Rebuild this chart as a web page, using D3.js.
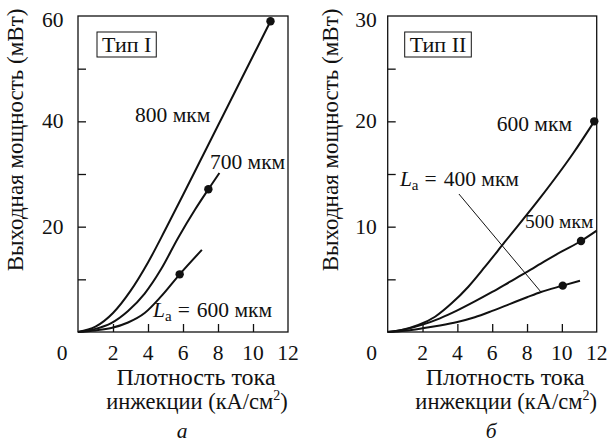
<!DOCTYPE html>
<html>
<head>
<meta charset="utf-8">
<script src="https://cdn.jsdelivr.net/npm/d3@7"></script>
<style>
  html, body { margin: 0; padding: 0; background: #fff; }
  svg text { fill: #111; }
</style>
</head>
<body>
<div id="chart"></div>
<script>
// Output power vs injection current density, two laser types

var xTickValues = [2, 4, 6, 8, 10];
var xTickLabels = ["0", "2", "4", "6", "8", "10", "12"];

// panel a (Type I)
var yTicksA = [10, 20, 30, 40, 50];
var yLabelsA = [20, 40, 60];
var curveA800 = [[0, 0], [1, 1.0], [2, 3.6], [3, 7.8], [4, 13.2], [5, 19.5], [6, 26], [7, 32.6], [8, 39.2], [9, 45.8], [10, 52.4], [11, 59]];
var curveA700 = [[0, 0], [1, 0.6], [1.9, 1.7], [2.86, 4.0], [3.81, 7.3], [4.76, 12], [5.71, 17.8], [6.7, 23.3], [7.45, 27.1], [8.08, 30.2]];
var curveA600 = [[0, 0], [1, 0.3], [1.9, 0.75], [2.86, 1.8], [3.81, 3.6], [4.76, 6.8], [5.81, 10.95], [7.08, 15.6]];
var dotsA = [[11, 59], [7.45, 27.1], [5.81, 10.95]];

// panel b (Type II)
var yTicksB = [5, 10, 15, 20, 25];
var yLabelsB = [10, 20, 30];
var curveB600 = [[0, 0], [0.8, 0.19], [1.76, 0.66], [2.72, 1.45], [3.67, 2.72], [4.63, 4.3], [5.59, 6.2], [6.7, 8.5], [8.74, 12.7], [10.65, 16.97], [11.86, 20]];
var curveB500 = [[0, 0], [1, 0.25], [2, 0.7], [3, 1.3], [4, 2.05], [5, 2.9], [6, 3.8], [7, 4.75], [8, 5.7], [9, 6.7], [10, 7.65], [11.1, 8.64], [12, 9.62]];
var curveB400 = [[0, 0], [1, 0.12], [2, 0.35], [3, 0.62], [4, 0.95], [5, 1.4], [6, 2.0], [7, 2.65], [8, 3.3], [8.8, 3.8], [10.05, 4.4], [11.04, 4.87]];
var dotsB = [[11.86, 20], [11.1, 8.64], [10.05, 4.4]];
var leaderB = [[4.09, 13.1], [8.8, 3.8]];

var W = 609, H = 444;
var FS = 21.5;
var svg = d3.select("#chart").append("svg")
    .attr("width", W).attr("height", H)
    .attr("font-family", "Liberation Serif, Times New Roman, serif");

function drawPanel(opt) {
    var x = d3.scaleLinear().domain([0, 12]).range([opt.left, opt.right]);
    var y = d3.scaleLinear().domain([0, opt.yMax]).range([332, 16]);
    var g = svg.append("g");

    // frame
    g.append("rect")
        .attr("x", x(0)).attr("y", y(opt.yMax))
        .attr("width", x(12) - x(0)).attr("height", y(0) - y(opt.yMax))
        .attr("fill", "none").attr("stroke", "#111").attr("stroke-width", 1.3);

    // inward ticks
    g.append("g")
        .attr("transform", "translate(0," + y(0) + ")")
        .call(d3.axisTop(x).tickValues(xTickValues).tickSize(8).tickFormat(""))
        .call(function (s) { s.select(".domain").remove(); })
        .selectAll("line").attr("stroke", "#111").attr("stroke-width", 1.3);
    g.append("g")
        .attr("transform", "translate(" + x(0) + ",0)")
        .call(d3.axisRight(y).tickValues(opt.yTicks).tickSize(8).tickFormat(""))
        .call(function (s) { s.select(".domain").remove(); })
        .selectAll("line").attr("stroke", "#111").attr("stroke-width", 1.3);

    // tick labels
    g.selectAll(".xl").data(xTickLabels).enter().append("text")
        .attr("x", function (d, i) { return i === 0 ? x(0) - 16 : x(+d); })
        .attr("y", 360)
        .attr("text-anchor", "middle")
        .attr("font-size", FS + "px")
        .text(function (d) { return d; });
    g.selectAll(".yl").data(opt.yLabels).enter().append("text")
        .attr("x", x(0) - opt.yLabelGap)
        .attr("y", function (d) { return y(d) + (d === opt.yMax ? 4 : 0); })
        .attr("dy", "0.33em")
        .attr("text-anchor", "end")
        .attr("font-size", FS + "px")
        .text(function (d) { return d; });

    // axis titles
    g.append("text")
        .attr("transform", "translate(" + (x(0) - opt.titleGap) + ",140) rotate(-90)")
        .attr("text-anchor", "middle")
        .attr("font-size", "23px")
        .text("Выходная мощность (мВт)");
    var cx = (x(0) + x(12)) / 2 + 13;
    g.append("text")
        .attr("x", cx).attr("y", 385)
        .attr("text-anchor", "middle")
        .attr("font-size", "24px")
        .text("Плотность тока");
    var t2 = g.append("text")
        .attr("x", cx + 1).attr("y", 409)
        .attr("text-anchor", "middle")
        .attr("font-size", "22.5px");
    t2.append("tspan").text("инжекции (кА/см");
    t2.append("tspan").attr("font-size", "14px").attr("dy", "-9").text("2");
    t2.append("tspan").attr("dy", "9").text(")");
    g.append("text")
        .attr("x", (x(0) + x(12)) / 2 - 1).attr("y", 438)
        .attr("text-anchor", "middle")
        .attr("font-size", FS + "px")
        .attr("font-style", "italic")
        .text(opt.caption);

    // type box
    var box = g.append("rect");
    var bt = g.append("text")
        .attr("x", x(0) + opt.boxOffset).attr("y", 52)
        .attr("font-size", "22px")
        .text(opt.type);
    var bb = bt.node().getBBox();
    box.attr("x", bb.x - 5).attr("y", 32)
        .attr("width", bb.width + 10).attr("height", 25)
        .attr("fill", "#fff").attr("stroke", "#111").attr("stroke-width", 1);

    var line = d3.line()
        .x(function (d) { return x(d[0]); })
        .y(function (d) { return y(d[1]); })
        .curve(d3.curveMonotoneX);

    opt.curves.forEach(function (c) {
        g.append("path").datum(c)
            .attr("d", line)
            .attr("fill", "none").attr("stroke", "#111").attr("stroke-width", 2);
    });
    if (opt.leader) {
        g.append("path").datum(opt.leader)
            .attr("d", d3.line().x(function (d) { return x(d[0]); }).y(function (d) { return y(d[1]); }))
            .attr("fill", "none").attr("stroke", "#111").attr("stroke-width", 1);
    }
    g.selectAll(".dot").data(opt.dots).enter().append("circle")
        .attr("cx", function (d) { return x(d[0]); })
        .attr("cy", function (d) { return y(d[1]); })
        .attr("r", 4.2).attr("fill", "#111");

    opt.labels.forEach(function (l) {
        var t = g.append("text")
            .attr("x", x(l.x)).attr("y", y(l.y))
            .attr("dy", "0.33em")
            .attr("font-size", (l.size || FS) + "px");
        if (l.la) {
            t.append("tspan").attr("font-style", "italic").text("L");
            t.append("tspan").attr("font-size", "15px").attr("dy", "4").text("a");
            t.append("tspan").attr("dy", "-4").attr("dx", "6").text("=");
            t.append("tspan").attr("dx", "7").text(l.text);
        } else {
            t.text(l.text);
        }
    });
}

drawPanel({
    left: 78, right: 288, yMax: 60,
    yTicks: yTicksA, yLabels: yLabelsA, yLabelGap: 14.5, titleGap: 55, boxOffset: 24,
    curves: [curveA800, curveA700, curveA600], dots: dotsA,
    type: "Тип I", caption: "а",
    labels: [
        { x: 3.26, y: 41.2, text: "800 мкм" },
        { x: 7.54, y: 32.3, text: "700 мкм" },
        { x: 4.29, y: 4.2, text: "600 мкм", la: true }
    ]
});

drawPanel({
    left: 387.7, right: 596.7, yMax: 30,
    yTicks: yTicksB, yLabels: yLabelsB, yLabelGap: 11, titleGap: 50, boxOffset: 22,
    curves: [curveB600, curveB500, curveB400], dots: dotsB,
    leader: leaderB,
    type: "Тип II", caption: "б",
    labels: [
        { x: 6.26, y: 19.75, text: "600 мкм" },
        { x: 0.7, y: 14.5, text: "400 мкм", la: true },
        { x: 7.88, y: 10.5, text: "500 мкм", size: 19.5 }
    ]
});
</script>
</body>
</html>
